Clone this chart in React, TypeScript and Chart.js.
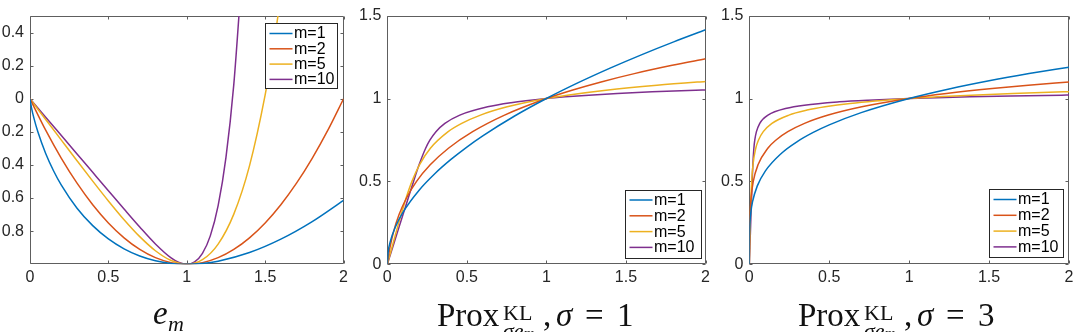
import React, { useEffect, useRef } from 'react';
import { Chart, registerables } from 'chart.js';

Chart.register(...registerables);

// ---------- data ----------
const seriesLabels = ['m=1', 'm=2', 'm=5', 'm=10'];
const seriesColors = ['#0072BD', '#D95319', '#EDB120', '#7E2F8E'];

const xTickValues = [0, 0.5, 1, 1.5, 2];
const xTickLabels = ['0', '0.5', '1', '1.5', '2'];

const envYTickValues = [-0.8, -0.6, -0.4, -0.2, 0, 0.2, 0.4];
const envYTickLabels = ['0.8', '0.6', '0.4', '0.2', '0', '0.2', '0.4'];

const proxYTickValues = [0, 0.5, 1, 1.5];
const proxYTickLabels = ['0', '0.5', '1', '1.5'];

// panel 1: e_m
const envM1: [number, number][] = [[0, 0], [0.01, -0.0561], [0.025, -0.1172], [0.05, -0.1998], [0.1, -0.3303], [0.15, -0.4346], [0.2, -0.5219], [0.3, -0.6612], [0.4, -0.7665], [0.5, -0.8466], [0.6, -0.9065], [0.7, -0.9497], [0.8, -0.9785], [0.9, -0.9948], [1, -1], [1.1, -0.9952], [1.2, -0.9812], [1.4, -0.9289], [1.6, -0.848], [1.8, -0.742], [2, -0.6137]];
const envM2: [number, number][] = [[0, 0], [0.1, -0.19], [0.2, -0.36], [0.3, -0.51], [0.4, -0.64], [0.5, -0.75], [0.6, -0.84], [0.7, -0.91], [0.8, -0.96], [0.9, -0.99], [1, -1], [1.1, -0.99], [1.2, -0.96], [1.3, -0.91], [1.4, -0.84], [1.5, -0.75], [1.6, -0.64], [1.7, -0.51], [1.8, -0.36], [1.9, -0.19], [2, 0]];
const envM5: [number, number][] = [[0, 0], [0.1, -0.125], [0.2, -0.2499], [0.3, -0.3744], [0.4, -0.4974], [0.5, -0.6172], [0.6, -0.7306], [0.7, -0.833], [0.8, -0.9181], [0.9, -0.9774], [1, -1], [1.1, -0.9724], [1.2, -0.8779], [1.3, -0.6968], [1.4, -0.4054], [1.5, 0.0234], [1.55, 0.2992], [1.6, 0.6214]];
const envM10: [number, number][] = [[0, 0], [0.1, -0.1111], [0.2, -0.2222], [0.3, -0.3333], [0.4, -0.4444], [0.5, -0.5554], [0.6, -0.666], [0.7, -0.7746], [0.8, -0.877], [0.9, -0.9613], [0.95, -0.989], [1, -1], [1.05, -0.9857], [1.1, -0.934], [1.15, -0.8283], [1.2, -0.6454], [1.25, -0.3541], [1.3, 0.0873], [1.35, 0.7341]];

// panel 2: Prox, sigma = 1
const prox1M1: [number, number][] = [[0, 0], [0.005, 0.0707], [0.02, 0.1414], [0.05, 0.2236], [0.1, 0.3162], [0.2, 0.4472], [0.3, 0.5477], [0.4, 0.6325], [0.5, 0.7071], [0.6, 0.7746], [0.8, 0.8944], [1, 1], [1.2, 1.0954], [1.4, 1.1832], [1.6, 1.2649], [1.8, 1.3416], [2, 1.4142]];
const prox1M2: [number, number][] = [[0, 0], [0.00748, 0.05], [0.01653, 0.1], [0.0404, 0.2], [0.074, 0.3], [0.1205, 0.4], [0.1839, 0.5], [0.2696, 0.6], [0.3842, 0.7], [0.5363, 0.8], [0.7369, 0.9], [1, 1], [1.1604, 1.05], [1.3436, 1.1], [1.5524, 1.15], [1.7902, 1.2], [2, 1.2395]];
const prox1M5: [number, number][] = [[0, 0], [0.02865, 0.1], [0.0574, 0.2], [0.0868, 0.3], [0.1183, 0.4], [0.1549, 0.5], [0.2021, 0.6], [0.2708, 0.7], [0.3825, 0.8], [0.4677, 0.85], [0.5855, 0.9], [0.7534, 0.95], [1, 1], [1.1307, 1.02], [1.3747, 1.05], [1.6949, 1.08], [1.9648, 1.1], [2, 1.1023]];
const prox1M10: [number, number][] = [[0, 0], [0.0329, 0.1], [0.0658, 0.2], [0.0988, 0.3], [0.1317, 0.4], [0.165, 0.5], [0.1997, 0.6], [0.241, 0.7], [0.2684, 0.75], [0.3057, 0.8], [0.3619, 0.85], [0.4557, 0.9], [0.63, 0.95], [0.7774, 0.975], [1, 1], [1.1208, 1.01], [1.2669, 1.02], [1.4453, 1.03], [1.6645, 1.04], [1.9375, 1.05], [2, 1.052]];

// panel 3: Prox, sigma = 3
const prox3M1: [number, number][] = [[0, 0], [0.0001, 0.1], [0.001, 0.1778], [0.005, 0.2659], [0.01, 0.3162], [0.02, 0.3761], [0.05, 0.4729], [0.1, 0.5623], [0.2, 0.6687], [0.3, 0.7401], [0.4, 0.7953], [0.5, 0.8409], [0.7, 0.9147], [1, 1], [1.25, 1.0574], [1.5, 1.1067], [1.75, 1.1502], [2, 1.1892]];
const prox3M2: [number, number][] = [[0, 0], [0.000452, 0.1], [0.001646, 0.2], [0.004499, 0.3], [0.01093, 0.4], [0.02489, 0.5], [0.05443, 0.6], [0.11571, 0.7], [0.16735, 0.75], [0.24095, 0.8], [0.34558, 0.85], [0.49393, 0.9], [0.70378, 0.95], [1, 1], [1.23314, 1.03], [1.51933, 1.06], [1.74536, 1.08], [2, 1.0997]];
const prox3M5: [number, number][] = [[0, 0], [0.00235, 0.1], [0.004732, 0.2], [0.007273, 0.3], [0.010354, 0.4], [0.014863, 0.5], [0.022933, 0.6], [0.040497, 0.7], [0.057762, 0.75], [0.087416, 0.8], [0.14155, 0.85], [0.24785, 0.9], [0.36155, 0.93], [0.47381, 0.95], [0.63089, 0.97], [1, 1], [1.17611, 1.01], [1.3895, 1.02], [1.64907, 1.03], [1.96633, 1.04], [2, 1.0409]];
const prox3M10: [number, number][] = [[0, 0], [0.003567, 0.1], [0.007135, 0.2], [0.010702, 0.3], [0.014282, 0.4], [0.017954, 0.5], [0.022137, 0.6], [0.028568, 0.7], [0.034364, 0.75], [0.044641, 0.8], [0.065609, 0.85], [0.090152, 0.88], [0.11679, 0.9], [0.15836, 0.92], [0.22643, 0.94], [0.34452, 0.96], [0.56308, 0.98], [0.74207, 0.99], [1, 1], [1.17119, 1.005], [1.38031, 1.01], [1.63701, 1.015], [1.95452, 1.02], [2, 1.0206]];

// ---------- style ----------
const SANS = '"Liberation Sans", Arial, Helvetica, sans-serif';
const SERIF = '"Liberation Serif", "Times New Roman", serif';
const FRAME = '#5e5e5e';
const TEXT = '#262626';
const CANVAS_H = 300;

type LegendCfg = { corner: 'ne' | 'se'; gapX: number; gapY: number; w: number; h: number; rowStart: number; rowGap: number };

type PanelCfg = {
  id: string;
  canvasLeft: number;
  canvasWidth: number;
  plotLeft: number;
  plotRight: number;
  plotTop: number;
  plotBottom: number;
  yMin: number;
  yMax: number;
  yTicks: number[];
  yLabels: string[];
  series: [number, number][][];
  legend: LegendCfg;
};

const panels: PanelCfg[] = [
  {
    id: 'env', canvasLeft: 0, canvasWidth: 352, plotLeft: 30, plotRight: 344, plotTop: 16, plotBottom: 264.3,
    yMin: -1, yMax: 0.5, yTicks: envYTickValues, yLabels: envYTickLabels,
    series: [envM1, envM2, envM5, envM10],
    legend: { corner: 'ne', gapX: 6.7, gapY: 7.3, w: 72.3, h: 64.5, rowStart: 10, rowGap: 15.3 },
  },
  {
    id: 'prox1', canvasLeft: 352, canvasWidth: 362, plotLeft: 387.3, plotRight: 707.3, plotTop: 12.5, plotBottom: 264.3,
    yMin: 0, yMax: 1.5, yTicks: proxYTickValues, yLabels: proxYTickLabels,
    series: [prox1M1, prox1M2, prox1M5, prox1M10],
    legend: { corner: 'se', gapX: 5, gapY: 6.6, w: 75.6, h: 67.7, rowStart: 9.5, rowGap: 15.8 },
  },
  {
    id: 'prox3', canvasLeft: 714, canvasWidth: 370, plotLeft: 749.3, plotRight: 1069, plotTop: 12.5, plotBottom: 264.3,
    yMin: 0, yMax: 1.5, yTicks: proxYTickValues, yLabels: proxYTickLabels,
    series: [prox3M1, prox3M2, prox3M5, prox3M10],
    legend: { corner: 'se', gapX: 5.7, gapY: 6.6, w: 74, h: 68.4, rowStart: 10, rowGap: 15.8 },
  },
];

const framePlugin = {
  id: 'mlFrame',
  beforeDatasetsDraw(chart: any) {
    const { ctx, chartArea: a, scales } = chart;
    const L = Math.round(a.left) + 0.5;
    const R = Math.round(a.right) - 0.5;
    const T = Math.round(a.top) + 0.5;
    const B = Math.round(a.bottom) - 0.5;
    const tl = 3;
    ctx.save();
    ctx.strokeStyle = FRAME;
    ctx.lineWidth = 1;
    ctx.beginPath();
    ctx.rect(L, T, R - L, B - T);
    for (const t of scales.x.ticks) {
      const p = Math.round(scales.x.getPixelForValue(t.value)) + 0.5;
      ctx.moveTo(p, B); ctx.lineTo(p, B - tl);
      ctx.moveTo(p, T); ctx.lineTo(p, T + tl);
    }
    for (const t of scales.y.ticks) {
      const p = Math.round(scales.y.getPixelForValue(t.value)) + 0.5;
      ctx.moveTo(L, p); ctx.lineTo(L + tl, p);
      ctx.moveTo(R, p); ctx.lineTo(R - tl, p);
    }
    ctx.stroke();
    ctx.restore();
  },
};

const legendPlugin = {
  id: 'mlLegend',
  afterDatasetsDraw(chart: any, _args: any, opts: any) {
    const cfg: LegendCfg = opts.cfg;
    if (!cfg) return;
    const { ctx, chartArea: a } = chart;
    const x = Math.round(a.right - cfg.gapX - cfg.w) + 0.5;
    const y = cfg.corner === 'ne' ? Math.round(a.top + cfg.gapY) + 0.5 : Math.round(a.bottom - cfg.gapY - cfg.h) + 0.5;
    const w = Math.round(cfg.w);
    const h = Math.round(cfg.h);
    ctx.save();
    ctx.fillStyle = '#ffffff';
    ctx.fillRect(x, y, w, h);
    ctx.strokeStyle = '#262626';
    ctx.lineWidth = 1;
    ctx.strokeRect(x, y, w, h);
    ctx.font = `16px ${SANS}`;
    ctx.textBaseline = 'middle';
    ctx.textAlign = 'left';
    chart.data.datasets.forEach((ds: any, i: number) => {
      const cy = y + cfg.rowStart + i * cfg.rowGap;
      ctx.strokeStyle = ds.borderColor;
      ctx.lineWidth = 1.5;
      ctx.beginPath();
      ctx.moveTo(x + 4, cy);
      ctx.lineTo(x + 27, cy);
      ctx.stroke();
      ctx.fillStyle = '#000000';
      ctx.fillText(ds.label, x + 28.5, cy + 0.5);
    });
    ctx.restore();
  },
};

function Panel({ cfg }: { cfg: PanelCfg }) {
  const ref = useRef<HTMLCanvasElement | null>(null);
  useEffect(() => {
    if (!ref.current) return;
    const yAxisW = cfg.plotLeft - cfg.canvasLeft;
    const padRight = cfg.canvasLeft + cfg.canvasWidth - cfg.plotRight;
    const xAxisH = CANVAS_H - cfg.plotBottom;
    const chart = new Chart(ref.current, {
      type: 'line',
      data: {
        datasets: cfg.series.map((pts, i) => ({
          label: seriesLabels[i],
          data: pts.map(([x, y]) => ({ x, y })),
          borderColor: seriesColors[i],
          backgroundColor: seriesColors[i],
          borderWidth: 1.5,
          pointRadius: 0,
          fill: false,
          cubicInterpolationMode: 'monotone',
        })),
      },
      options: {
        animation: false,
        responsive: false,
        events: [],
        layout: { autoPadding: false, padding: { left: 0, right: padRight, top: cfg.plotTop, bottom: 0 } },
        plugins: {
          legend: { display: false },
          tooltip: { enabled: false },
          mlLegend: { cfg: cfg.legend },
        } as any,
        scales: {
          x: {
            type: 'linear',
            min: 0,
            max: 2,
            grid: { display: false, drawTicks: false },
            border: { display: false },
            afterBuildTicks: (s: any) => { s.ticks = xTickValues.map((v) => ({ value: v })); },
            afterFit: (s: any) => { s.height = xAxisH; },
            ticks: {
              autoSkip: false,
              maxRotation: 0,
              padding: 4,
              color: TEXT,
              font: { family: SANS, size: 16 },
              callback: (_v: any, i: number) => xTickLabels[i],
            },
          },
          y: {
            type: 'linear',
            min: cfg.yMin,
            max: cfg.yMax,
            grid: { display: false, drawTicks: false },
            border: { display: false },
            afterBuildTicks: (s: any) => { s.ticks = cfg.yTicks.map((v) => ({ value: v })); },
            afterFit: (s: any) => { s.width = yAxisW; },
            ticks: {
              autoSkip: false,
              padding: 6,
              color: TEXT,
              font: { family: SANS, size: 16 },
              callback: (_v: any, i: number) => cfg.yLabels[i],
            },
          },
        },
      } as any,
      plugins: [framePlugin, legendPlugin],
    });
    return () => chart.destroy();
  }, [cfg]);
  return (
    <canvas
      ref={ref}
      width={cfg.canvasWidth}
      height={CANVAS_H}
      style={{ position: 'absolute', left: cfg.canvasLeft, top: 0, width: cfg.canvasWidth, height: CANVAS_H }}
    />
  );
}

function Piece({ x, base, size, italic, children }: { x: number; base: number; size: number; italic?: boolean; children: React.ReactNode }) {
  return (
    <span
      style={{
        position: 'absolute',
        left: x,
        top: base - 0.8375 * size,
        fontSize: size,
        lineHeight: `${size}px`,
        fontStyle: italic ? 'italic' : 'normal',
        fontFamily: SERIF,
        whiteSpace: 'nowrap',
        color: '#111',
      }}
    >
      {children}
    </span>
  );
}

function ProxTitle({ left, sigma }: { left: number; sigma: string }) {
  return (
    <>
      <Piece x={left} base={327} size={33}>Prox</Piece>
      <Piece x={left + 66} base={320} size={22}>KL</Piece>
      <Piece x={left + 66} base={338.5} size={22} italic>σe<span style={{ fontSize: 15 }}>m</span></Piece>
      <Piece x={left + 106} base={327} size={33}>,</Piece>
      <Piece x={left + 119} base={327} size={33} italic>σ</Piece>
      <Piece x={left + 148} base={327} size={33}>=</Piece>
      <Piece x={left + 180} base={327} size={33}>{sigma}</Piece>
    </>
  );
}

export default function App() {
  return (
    <div
      style={{
        position: 'fixed',
        left: 0,
        top: 0,
        width: 1084,
        height: 332,
        overflow: 'hidden',
        background: '#ffffff',
      }}
    >
      {panels.map((p) => (
        <Panel key={p.id} cfg={p} />
      ))}
      <Piece x={153} base={325} size={33} italic>e</Piece>
      <Piece x={168} base={331} size={22} italic>m</Piece>
      <ProxTitle left={437} sigma="1" />
      <ProxTitle left={798} sigma="3" />
    </div>
  );
}
